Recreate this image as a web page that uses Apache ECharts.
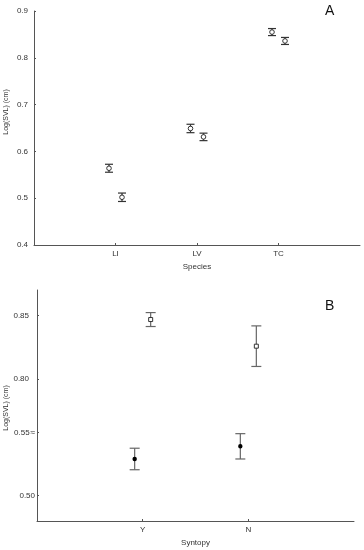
<!DOCTYPE html>
<html><head><meta charset="utf-8">
<script src="https://cdn.jsdelivr.net/npm/echarts@6/dist/echarts.min.js"></script>
<style>html,body{margin:0;padding:0;background:#fff}#c{width:364px;height:550px}</style>
</head><body><div id="c"></div>
<script>
// Panel A data
const catsA = ['LI', 'LV', 'TC'];
const meanA1 = [0.564, 0.649, 0.855];
const errA1 = [0.0085, 0.009, 0.0075];
const meanA2 = [0.502, 0.631, 0.836];
const errA2 = [0.009, 0.008, 0.0075];
const ticksA = [0.4, 0.5, 0.6, 0.7, 0.8, 0.9];
// Panel B data
const catsB = ['Y', 'N'];
const meanB1 = [0.529, 0.539];   // filled
const errB1 = [0.0085, 0.010];
const meanB2 = [0.847, 0.826];   // open
const errB2 = [0.0055, 0.016];
const ticksBLow = [0.50, 0.55];
const ticksBHigh = [0.80, 0.85];

const FONT = 'Liberation Sans';
const axisCol = '#555';

function rows(means, errs) { return means.map((m, i) => [i + 1, m, errs[i]]); }

function makeRender(dx, cap, marker, barCol) {
  return function (params, api) {
    const x = api.value(0), m = api.value(1), e = api.value(2);
    const c = api.coord([x, m]); const t = api.coord([x, m + e]); const b = api.coord([x, m - e]);
    const px = c[0] + dx;
    const ls = { stroke: barCol, lineWidth: 1.2 };
    const ch = [
      { type: 'line', shape: { x1: px, y1: t[1], x2: px, y2: b[1] }, style: ls },
      { type: 'line', shape: { x1: px - cap, y1: t[1], x2: px + cap, y2: t[1] }, style: ls },
      { type: 'line', shape: { x1: px - cap, y1: b[1], x2: px + cap, y2: b[1] }, style: ls }
    ];
    if (marker === 'circle') ch.push({ type: 'circle', shape: { cx: px, cy: c[1], r: 2.3 }, style: { fill: '#fff', stroke: '#333', lineWidth: 1 } });
    if (marker === 'dot') ch.push({ type: 'circle', shape: { cx: px, cy: c[1], r: 2.2 }, style: { fill: '#000' } });
    if (marker === 'square') ch.push({ type: 'rect', shape: { x: px - 2, y: c[1] - 2, width: 4, height: 4 }, style: { fill: '#fff', stroke: '#333', lineWidth: 1 } });
    return { type: 'group', children: ch };
  };
}

const labelStyle = { fontFamily: FONT, fontSize: 8, color: '#333' };
const fmt2 = v => v.toFixed(2);

const option = {
  animation: false,
  grid: [
    { left: 34, top: 11, width: 326, height: 234 },
    { left: 37, top: 290, width: 317, height: 142.4 },
    { left: 37, top: 432.4, width: 317, height: 88.6 }
  ],
  xAxis: [
    { gridIndex: 0, type: 'value', min: 0, max: 4, splitLine: { show: false },
      axisLine: { lineStyle: { color: axisCol, width: 1 } },
      axisTick: { customValues: [1, 2, 3], length: 2, inside: true, lineStyle: { color: axisCol } },
      axisLabel: Object.assign({ customValues: [1, 2, 3], formatter: v => catsA[Math.round(v) - 1] || '', margin: 5 }, labelStyle),
      name: 'Species', nameLocation: 'middle', nameGap: 18, nameTextStyle: { fontFamily: FONT, fontSize: 8, color: '#333' } },
    { gridIndex: 1, type: 'value', min: 0, max: 3, show: false },
    { gridIndex: 2, type: 'value', min: 0, max: 3, splitLine: { show: false },
      axisLine: { lineStyle: { color: axisCol, width: 1 } },
      axisTick: { customValues: [1, 2], length: 2, inside: true, lineStyle: { color: axisCol } },
      axisLabel: Object.assign({ customValues: [1, 2], formatter: v => catsB[Math.round(v) - 1] || '', margin: 5 }, labelStyle),
      name: 'Syntopy', nameLocation: 'middle', nameGap: 18, nameTextStyle: { fontFamily: FONT, fontSize: 8, color: '#333' } }
  ],
  yAxis: [
    { gridIndex: 0, type: 'value', min: 0.4, max: 0.9, splitLine: { show: false },
      axisLine: { show: true, lineStyle: { color: axisCol, width: 1 } },
      axisTick: { show: true, customValues: ticksA, length: 2, inside: true, lineStyle: { color: axisCol } },
      axisLabel: Object.assign({ customValues: ticksA, formatter: v => v.toFixed(1), margin: 6 }, labelStyle) },
    { gridIndex: 1, type: 'value', min: 0.758, max: 0.8703, splitLine: { show: false },
      axisLine: { show: true, lineStyle: { color: axisCol, width: 1 } },
      axisTick: { show: true, customValues: ticksBHigh, length: 2, inside: true, lineStyle: { color: axisCol } },
      axisLabel: Object.assign({ customValues: ticksBHigh, formatter: fmt2, margin: 8 }, labelStyle) },
    { gridIndex: 2, type: 'value', min: 0.48, max: 0.55, splitLine: { show: false },
      axisLine: { show: true, lineStyle: { color: axisCol, width: 1 } },
      axisTick: { show: true, customValues: ticksBLow, length: 2, inside: true, lineStyle: { color: axisCol } },
      axisLabel: Object.assign({ customValues: ticksBLow, margin: 2,
        formatter: v => Math.abs(v - 0.55) < 1e-6 ? '0.55{b|≈}' : fmt2(v),
        rich: { b: { fontSize: 8, fontFamily: FONT, color: '#333', padding: [0, 0, 0, 1] } } }, labelStyle) }
  ],
  series: [
    { type: 'custom', xAxisIndex: 0, yAxisIndex: 0, data: rows(meanA1, errA1), renderItem: makeRender(-6.5, 4, 'circle', '#333') },
    { type: 'custom', xAxisIndex: 0, yAxisIndex: 0, data: rows(meanA2, errA2), renderItem: makeRender(6.5, 4, 'circle', '#333') },
    { type: 'custom', xAxisIndex: 2, yAxisIndex: 2, data: rows(meanB1, errB1), renderItem: makeRender(-8, 5, 'dot', '#666') },
    { type: 'custom', xAxisIndex: 1, yAxisIndex: 1, data: rows(meanB2, errB2), renderItem: makeRender(8, 5, 'square', '#666') }
  ],
  graphic: [
    { type: 'text', left: 325, top: 4, style: { text: 'A', fontFamily: FONT, fontSize: 14, fill: '#111' } },
    { type: 'text', left: 325, top: 299, style: { text: 'B', fontFamily: FONT, fontSize: 14, fill: '#111' } },
    { type: 'text', x: 6, y: 112, rotation: Math.PI / 2, style: { text: 'Log(SVL) (cm)', fontFamily: FONT, fontSize: 7, fill: '#333', align: 'center', verticalAlign: 'middle' } },
    { type: 'text', x: 6, y: 408, rotation: Math.PI / 2, style: { text: 'Log(SVL) (cm)', fontFamily: FONT, fontSize: 7, fill: '#333', align: 'center', verticalAlign: 'middle' } }
  ]
};
echarts.init(document.getElementById('c')).setOption(option);
</script></body></html>
